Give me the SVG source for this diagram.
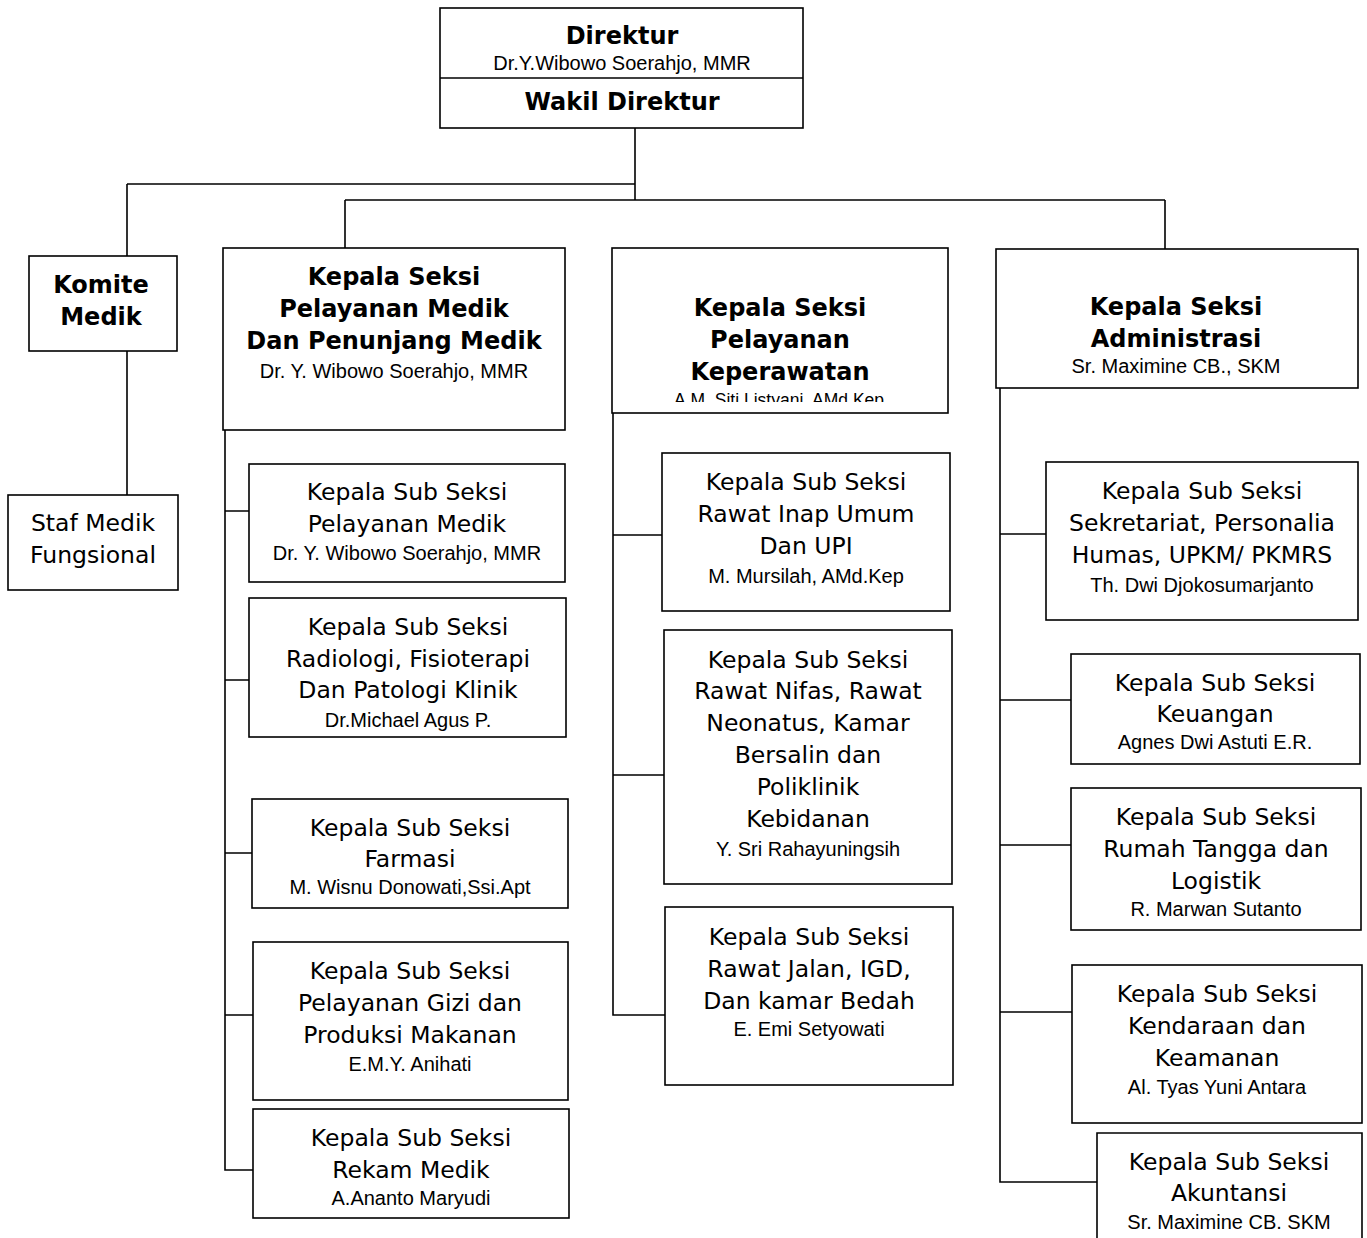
<svg xmlns="http://www.w3.org/2000/svg" width="1367" height="1238" viewBox="0 0 1367 1238">
<style>
.box{fill:none;stroke:#000;stroke-width:1.6}
.ln{fill:none;stroke:#000;stroke-width:1.6}
text{text-anchor:middle;fill:#000}
.h{font-family:"DejaVu Sans",Verdana,sans-serif;font-weight:bold;font-size:24px}
.t{font-family:"DejaVu Sans",Verdana,sans-serif;font-size:23.5px}
.n{font-family:"Liberation Sans",Arial,sans-serif;font-size:20px}
</style>
<defs>
<clipPath id="cutKep"><rect x="612" y="248" width="336" height="154"/></clipPath>
</defs>
<rect width="1367" height="1238" fill="#fff"/>
<g id="connectors">
<path class="ln" d="M635,128 V200 M127,184 H635 M345,200 H1165 M127,184 V256 M127,351 V495 M345,200 V248 M1165,200 V249"/>
<path class="ln" d="M225,430 V1170 H253 M225,511 H249 M225,680 H249 M225,853 H252 M225,1015 H253"/>
<path class="ln" d="M613,413 V1015 H665 M613,535 H662 M613,775 H664"/>
<path class="ln" d="M1000,388 V1182 H1097 M1000,534 H1046 M1000,700 H1071 M1000,845 H1071 M1000,1012 H1072"/>
</g>
<g id="direktur">
<rect class="box" x="440" y="8" width="363" height="120"/>
<line class="ln" x1="440" y1="78" x2="803" y2="78"/>
<text class="h" x="622" y="44">Direktur</text>
<text class="n" x="622" y="70">Dr.Y.Wibowo Soerahjo, MMR</text>
<text class="h" x="622" y="110">Wakil Direktur</text>
</g>
<g id="komite-medik">
<rect class="box" x="29" y="256" width="148" height="95"/>
<text class="h" x="101" y="293">Komite</text>
<text class="h" x="101" y="325">Medik</text>
</g>
<g id="staf-medik">
<rect class="box" x="8" y="495" width="170" height="95"/>
<text class="t" x="93" y="531">Staf Medik</text>
<text class="t" x="93" y="563">Fungsional</text>
</g>
<g id="seksi-pelayanan-medik">
<rect class="box" x="223" y="248" width="342" height="182"/>
<text class="h" x="394" y="285">Kepala Seksi</text>
<text class="h" x="394" y="317">Pelayanan Medik</text>
<text class="h" x="394" y="349">Dan Penunjang Medik</text>
<text class="n" x="394" y="378">Dr. Y. Wibowo Soerahjo, MMR</text>
</g>
<g id="sub-pelayanan-medik">
<rect class="box" x="249" y="464" width="316" height="118"/>
<text class="t" x="407" y="500">Kepala Sub Seksi</text>
<text class="t" x="407" y="532">Pelayanan Medik</text>
<text class="n" x="407" y="560">Dr. Y. Wibowo Soerahjo, MMR</text>
</g>
<g id="sub-radiologi">
<rect class="box" x="249" y="598" width="317" height="139"/>
<text class="t" x="408" y="635">Kepala Sub Seksi</text>
<text class="t" x="408" y="667">Radiologi, Fisioterapi</text>
<text class="t" x="408" y="698">Dan Patologi Klinik</text>
<text class="n" x="408" y="727">Dr.Michael Agus P.</text>
</g>
<g id="sub-farmasi">
<rect class="box" x="252" y="799" width="316" height="109"/>
<text class="t" x="410" y="836">Kepala Sub Seksi</text>
<text class="t" x="410" y="867">Farmasi</text>
<text class="n" x="410" y="894">M. Wisnu Donowati,Ssi.Apt</text>
</g>
<g id="sub-gizi">
<rect class="box" x="253" y="942" width="315" height="158"/>
<text class="t" x="410" y="979">Kepala Sub Seksi</text>
<text class="t" x="410" y="1011">Pelayanan Gizi dan</text>
<text class="t" x="410" y="1043">Produksi Makanan</text>
<text class="n" x="410" y="1071">E.M.Y. Anihati</text>
</g>
<g id="sub-rekam-medik">
<rect class="box" x="253" y="1109" width="316" height="109"/>
<text class="t" x="411" y="1146">Kepala Sub Seksi</text>
<text class="t" x="411" y="1178">Rekam Medik</text>
<text class="n" x="411" y="1205">A.Ananto Maryudi</text>
</g>
<g id="seksi-keperawatan">
<rect class="box" x="612" y="248" width="336" height="165"/>
<text class="h" x="780" y="316">Kepala Seksi</text>
<text class="h" x="780" y="348">Pelayanan</text>
<text class="h" x="780" y="380">Keperawatan</text>
<text class="n" x="779" y="406" clip-path="url(#cutKep)" style="font-size:17.5px">A.M. Siti Listyani, AMd.Kep</text>
</g>
<g id="sub-rawat-inap">
<rect class="box" x="662" y="453" width="288" height="158"/>
<text class="t" x="806" y="490">Kepala Sub Seksi</text>
<text class="t" x="806" y="522">Rawat Inap Umum</text>
<text class="t" x="806" y="554">Dan UPI</text>
<text class="n" x="806" y="583">M. Mursilah, AMd.Kep</text>
</g>
<g id="sub-rawat-nifas">
<rect class="box" x="664" y="630" width="288" height="254"/>
<text class="t" x="808" y="668">Kepala Sub Seksi</text>
<text class="t" x="808" y="699">Rawat Nifas, Rawat</text>
<text class="t" x="808" y="731">Neonatus, Kamar</text>
<text class="t" x="808" y="763">Bersalin dan</text>
<text class="t" x="808" y="795">Poliklinik</text>
<text class="t" x="808" y="827">Kebidanan</text>
<text class="n" x="808" y="856">Y. Sri Rahayuningsih</text>
</g>
<g id="sub-rawat-jalan">
<rect class="box" x="665" y="907" width="288" height="178"/>
<text class="t" x="809" y="945">Kepala Sub Seksi</text>
<text class="t" x="809" y="977">Rawat Jalan, IGD,</text>
<text class="t" x="809" y="1009">Dan kamar Bedah</text>
<text class="n" x="809" y="1036">E. Emi Setyowati</text>
</g>
<g id="seksi-administrasi">
<rect class="box" x="996" y="249" width="362" height="139"/>
<text class="h" x="1176" y="315">Kepala Seksi</text>
<text class="h" x="1176" y="347">Administrasi</text>
<text class="n" x="1176" y="373">Sr. Maximine CB., SKM</text>
</g>
<g id="sub-sekretariat">
<rect class="box" x="1046" y="462" width="312" height="158"/>
<text class="t" x="1202" y="499">Kepala Sub Seksi</text>
<text class="t" x="1202" y="531">Sekretariat, Personalia</text>
<text class="t" x="1202" y="563">Humas, UPKM/ PKMRS</text>
<text class="n" x="1202" y="592">Th. Dwi Djokosumarjanto</text>
</g>
<g id="sub-keuangan">
<rect class="box" x="1071" y="654" width="289" height="110"/>
<text class="t" x="1215" y="691">Kepala Sub Seksi</text>
<text class="t" x="1215" y="722">Keuangan</text>
<text class="n" x="1215" y="749">Agnes Dwi Astuti E.R.</text>
</g>
<g id="sub-rumah-tangga">
<rect class="box" x="1071" y="788" width="290" height="142"/>
<text class="t" x="1216" y="825">Kepala Sub Seksi</text>
<text class="t" x="1216" y="857">Rumah Tangga dan</text>
<text class="t" x="1216" y="889">Logistik</text>
<text class="n" x="1216" y="916">R. Marwan Sutanto</text>
</g>
<g id="sub-kendaraan">
<rect class="box" x="1072" y="965" width="290" height="158"/>
<text class="t" x="1217" y="1002">Kepala Sub Seksi</text>
<text class="t" x="1217" y="1034">Kendaraan dan</text>
<text class="t" x="1217" y="1066">Keamanan</text>
<text class="n" x="1217" y="1094">Al. Tyas Yuni Antara</text>
</g>
<g id="sub-akuntansi">
<path class="box" d="M1097,1245 V1133 H1362 V1245"/>
<text class="t" x="1229" y="1170">Kepala Sub Seksi</text>
<text class="t" x="1229" y="1201">Akuntansi</text>
<text class="n" x="1229" y="1229">Sr. Maximine CB. SKM</text>
</g>
</svg>
